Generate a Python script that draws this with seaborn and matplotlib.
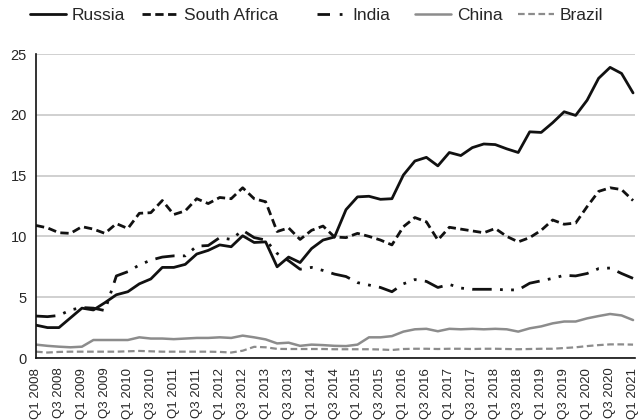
import matplotlib
matplotlib.use("Agg")
import matplotlib.pyplot as plt
import seaborn as sns
import pandas as pd
from matplotlib.lines import Line2D

years = list(range(2008, 2022))
quarters = [f"Q{q} {y}" for y in years for q in (1, 2, 3, 4)][:53]
tick_labels = quarters[::2]

russia = [2.7,2.5,2.5,3.3,4.1,3.95,4.55,5.2,5.45,6.1,
          6.5,7.45,7.45,7.7,8.55,8.85,9.3,9.15,10.05,9.5,
          9.55,7.5,8.3,7.85,9.0,9.7,9.95,12.2,13.25,13.3,
          13.05,13.1,15.05,16.2,16.5,15.8,16.9,16.65,17.3,17.6,
          17.55,17.2,16.9,18.6,18.55,19.35,20.25,19.95,21.2,23.0,
          23.9,23.4,21.8]
south_africa = [10.9,10.7,10.3,10.25,10.8,10.6,10.25,11.05,10.65,11.9,
                11.95,12.95,11.8,12.1,13.1,12.7,13.2,13.1,14.0,13.1,
                12.85,10.4,10.7,9.75,10.5,10.85,9.95,9.9,10.25,10.0,
                9.7,9.3,10.8,11.55,11.2,9.7,10.75,10.6,10.45,10.3,
                10.65,10.0,9.55,9.9,10.5,11.35,11.0,11.1,12.45,13.7,
                14.0,13.85,12.95]
india = [3.45,3.4,3.5,3.95,4.15,4.1,3.9,6.75,7.1,7.65,
         8.05,8.3,8.4,8.4,9.2,9.25,9.9,9.75,10.5,9.9,
         9.7,8.6,8.0,7.3,7.45,7.2,6.9,6.7,6.2,6.0,
         5.8,5.45,6.1,6.45,6.3,5.8,6.05,5.75,5.65,5.65,
         5.65,5.6,5.6,6.15,6.35,6.55,6.8,6.75,6.95,7.35,
         7.4,6.95,6.55]
china = [1.1,1.0,0.93,0.88,0.93,1.48,1.48,1.48,1.48,1.7,
         1.6,1.6,1.55,1.6,1.65,1.65,1.7,1.65,1.84,1.7,
         1.53,1.2,1.26,1.0,1.1,1.06,1.0,0.98,1.1,1.7,
         1.7,1.8,2.17,2.36,2.4,2.2,2.4,2.36,2.4,2.36,
         2.4,2.36,2.17,2.44,2.6,2.85,3.0,3.0,3.26,3.45,
         3.62,3.5,3.12]
brazil = [0.52,0.45,0.5,0.52,0.52,0.52,0.52,0.52,0.55,0.58,
          0.55,0.52,0.52,0.52,0.52,0.52,0.5,0.45,0.6,0.92,
          0.88,0.75,0.74,0.74,0.74,0.74,0.72,0.72,0.72,0.72,
          0.7,0.66,0.74,0.76,0.76,0.74,0.76,0.76,0.74,0.76,
          0.76,0.74,0.72,0.74,0.76,0.76,0.82,0.88,0.98,1.06,
          1.12,1.12,1.1]

countries = ["Russia", "South Africa", "India", "China", "Brazil"]
series = [russia, south_africa, india, china, brazil]

rows = []
for c, vals in zip(countries, series):
    for i, v in enumerate(vals):
        rows.append({"idx": i, "value": v, "country": c})
df = pd.DataFrame(rows)

sns.set_style("white")
plt.rcParams["font.family"] = ["Liberation Sans", "DejaVu Sans"]

palette = {"Russia": "#111111", "South Africa": "#111111", "India": "#111111",
           "China": "#8c8c8c", "Brazil": "#8c8c8c"}
dashes = {"Russia": "", "South Africa": (3, 1.6), "India": (7, 3, 1, 3, 1, 3),
          "China": "", "Brazil": (3, 1.6)}
widths = {"Russia": 2.0, "South Africa": 2.0, "India": 2.0, "China": 1.8, "Brazil": 1.6}

fig = plt.figure(figsize=(6.39, 4.2), dpi=100)
ax = fig.add_axes([36/639, 1 - 358/420, (635 - 36)/639, (358 - 54)/420])

sns.lineplot(data=df, x="idx", y="value", hue="country", style="country",
             hue_order=countries, style_order=countries,
             palette=palette, dashes=dashes, ax=ax, legend=False)
for line, c in zip(ax.lines, countries):
    line.set_linewidth(widths[c])
    line.set_solid_joinstyle("round")
    line.set_dash_joinstyle("round")

ax.set_xlim(0, 52.17)
ax.set_ylim(0, 25)
ax.set_yticks([0, 5, 10, 15, 20, 25])
ax.set_xticks(range(0, 53, 2))
ax.set_xticklabels(tick_labels, rotation=90, fontsize=9.5)
ax.tick_params(axis="y", labelsize=10.5, direction="inout", length=7, width=1.2, pad=3)
ax.tick_params(axis="x", direction="out", length=4, width=1.0, pad=3)
ax.yaxis.grid(True, color="#c8c8c8", linewidth=1.2)
ax.set_axisbelow(True)
for s in ["top", "right"]:
    ax.spines[s].set_visible(False)
for s in ["left", "bottom"]:
    ax.spines[s].set_color("#111111")
    ax.spines[s].set_linewidth(1.2)
ax.set_xlabel("")
ax.set_ylabel("")

# legend entries, each placed along the top
legend_x = {"Russia": 30, "South Africa": 142, "India": 317, "China": 415, "Brazil": 518}
for c in countries:
    d = dashes[c]
    ls = "-" if d == "" else (0, d)
    hl = 2.1
    if c == "India":
        ls = (0, (4.5, 3.5, 1, 2.5, 1, 3))
        hl = 1.75
    h = Line2D([0], [0], color=palette[c], lw=widths[c], linestyle=ls)
    fig.legend([h], [c], loc="center left",
               bbox_to_anchor=(legend_x[c]/639, 1 - 15/420),
               frameon=False, fontsize=12.5, handlelength=hl,
               handletextpad=0.3, borderpad=0, borderaxespad=0)

fig.savefig("out.png", dpi=100)
